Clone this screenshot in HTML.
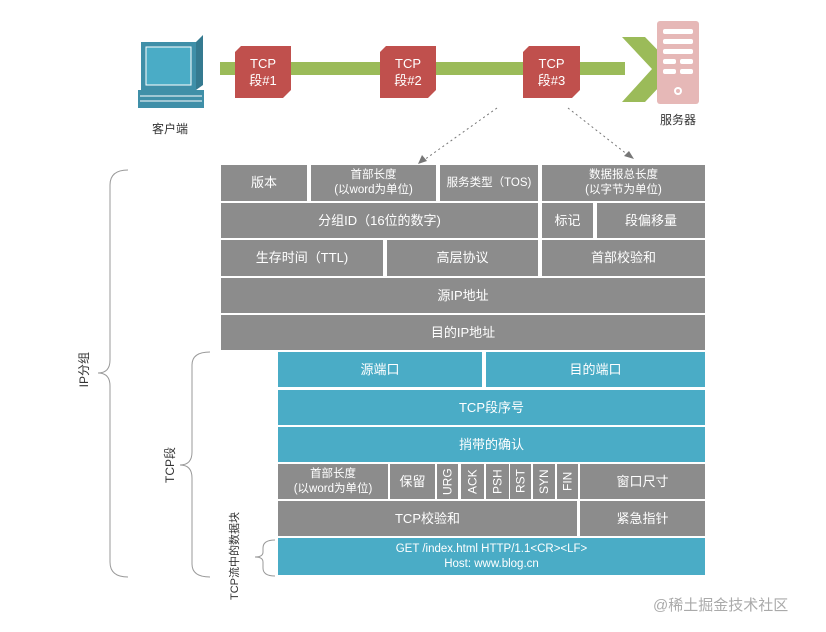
<!DOCTYPE html>
<html><head><meta charset="utf-8"><style>
body{margin:0;width:826px;height:632px;background:#fff;position:relative;overflow:hidden;font-family:"Liberation Sans","Noto Sans CJK SC",sans-serif}
.c{position:absolute;display:flex;align-items:center;justify-content:center;text-align:center;color:#fff;font-size:13px;line-height:16px}
.g{background:#8c8c8c}.b{background:#4aacc6}
.s{font-size:11.5px;line-height:15px}
.v{writing-mode:vertical-rl;text-orientation:sideways;transform:rotate(180deg);font-size:12px}
.r{position:absolute;background:#c0504d;color:#fff;font-size:13px;text-align:center;line-height:17px;padding-top:9px;box-sizing:border-box;clip-path:polygon(6px 0,100% 0,100% calc(100% - 8px),calc(100% - 8px) 100%,0 100%,0 6px)}
.t{position:absolute;font-size:12px;color:#333}
</style></head><body>
<svg width="826" height="632" style="position:absolute;left:0;top:0">
<rect x="220" y="62" width="405" height="13" fill="#9bbb59"/>
<polygon points="622,37 645,37 676,69 645,102 622,102 652,69" fill="#9bbb59"/>
<rect x="141" y="42" width="55" height="48" fill="#3f8fa8"/>
<rect x="146" y="47" width="45" height="38" fill="#4aacc6" stroke="#fff" stroke-width="1"/>
<polygon points="196,42 203,35 203,85 196,90" fill="#357a90"/>
<rect x="138" y="90" width="66" height="18" fill="#3f8fa8"/>
<line x1="140" y1="96" x2="202" y2="96" stroke="#fff"/><line x1="140" y1="101" x2="202" y2="101" stroke="#fff"/>
<rect x="657" y="21" width="42" height="83" rx="3" fill="#e6b8b7"/>
<rect x="663" y="29" width="30" height="5" rx="2" fill="#fff"/><rect x="663" y="39" width="30" height="5" rx="2" fill="#fff"/><rect x="663" y="49" width="30" height="5" rx="2" fill="#fff"/>
<rect x="663" y="59" width="13" height="5" rx="2" fill="#fff"/><rect x="680" y="59" width="13" height="5" rx="2" fill="#fff"/>
<rect x="663" y="69" width="13" height="5" rx="2" fill="#fff"/><rect x="680" y="69" width="13" height="5" rx="2" fill="#fff"/>
<circle cx="678" cy="91" r="4" fill="#fff"/><circle cx="678" cy="91" r="2" fill="#e6b8b7"/>
<line x1="497" y1="108" x2="424" y2="160" stroke="#777" stroke-dasharray="2,3"/>
<polygon points="418,164 422,155 427,161" fill="#777"/>
<line x1="568" y1="108" x2="628" y2="155" stroke="#777" stroke-dasharray="2,3"/>
<polygon points="634,159 624,156 629,151" fill="#777"/>
<path d="M128,170 Q110,170 110,185 L110,360 Q110,373 98,373 Q110,373 110,386 L110,562 Q110,577 128,577" fill="none" stroke="#999"/>
<path d="M210,352 Q192,352 192,365 L192,452 Q192,465 180,465 Q192,465 192,478 L192,564 Q192,577 210,577" fill="none" stroke="#999"/>
<path d="M275,540 Q263,540 263,548 L263,552 Q263,557 255,557 Q263,557 263,562 L263,568 Q263,576 275,576" fill="none" stroke="#999"/>
</svg>
<div class="r" style="left:235px;top:46px;width:56px;height:52px">TCP<br>段#1</div>
<div class="r" style="left:380px;top:46px;width:56px;height:52px">TCP<br>段#2</div>
<div class="r" style="left:523px;top:46px;width:57px;height:52px">TCP<br>段#3</div>
<div class="t" style="left:152px;top:120px">客户端</div>
<div class="t" style="left:660px;top:111px">服务器</div>
<div class="t v" style="left:75px;top:352px">IP分组</div>
<div class="t v" style="left:161px;top:447px">TCP段</div>
<div class="t v" style="left:226px;top:512px;font-size:11px">TCP流中的数据块</div>

<div class="c g" style="left:221px;top:165px;width:86px;height:36px">版本</div>
<div class="c g s" style="left:311px;top:165px;width:125px;height:36px">首部长度<br>(以word为单位)</div>
<div class="c g s" style="left:440px;top:165px;width:98px;height:36px">服务类型（TOS)</div>
<div class="c g s" style="left:542px;top:165px;width:163px;height:36px">数据报总长度<br>(以字节为单位)</div>
<div class="c g" style="left:221px;top:203px;width:317px;height:35px">分组ID（16位的数字)</div>
<div class="c g" style="left:542px;top:203px;width:51px;height:35px">标记</div>
<div class="c g" style="left:597px;top:203px;width:108px;height:35px">段偏移量</div>
<div class="c g" style="left:221px;top:240px;width:162px;height:36px">生存时间（TTL)</div>
<div class="c g" style="left:387px;top:240px;width:151px;height:36px">高层协议</div>
<div class="c g" style="left:542px;top:240px;width:163px;height:36px">首部校验和</div>
<div class="c g" style="left:221px;top:278px;width:484px;height:35px">源IP地址</div>
<div class="c g" style="left:221px;top:315px;width:484px;height:35px">目的IP地址</div>

<div class="c b" style="left:278px;top:352px;width:204px;height:35px">源端口</div>
<div class="c b" style="left:486px;top:352px;width:219px;height:35px">目的端口</div>
<div class="c b" style="left:278px;top:390px;width:427px;height:35px">TCP段序号</div>
<div class="c b" style="left:278px;top:427px;width:427px;height:35px">捎带的确认</div>
<div class="c g s" style="left:278px;top:464px;width:110px;height:35px">首部长度<br>(以word为单位)</div>
<div class="c g" style="left:390px;top:464px;width:45px;height:35px">保留</div>
<div class="c g v" style="left:437px;top:464px;width:21px;height:35px">URG</div>
<div class="c g v" style="left:461px;top:464px;width:23px;height:35px">ACK</div>
<div class="c g v" style="left:486px;top:464px;width:23px;height:35px">PSH</div>
<div class="c g v" style="left:510px;top:464px;width:21px;height:35px">RST</div>
<div class="c g v" style="left:533px;top:464px;width:22px;height:35px">SYN</div>
<div class="c g v" style="left:557px;top:464px;width:21px;height:35px">FIN</div>
<div class="c g" style="left:580px;top:464px;width:125px;height:35px">窗口尺寸</div>
<div class="c g" style="left:278px;top:501px;width:299px;height:35px">TCP校验和</div>
<div class="c g" style="left:580px;top:501px;width:125px;height:35px">紧急指针</div>
<div class="c b s" style="left:278px;top:538px;width:427px;height:37px">GET /index.html HTTP/1.1&lt;CR&gt;&lt;LF&gt;<br>Host: www.blog.cn</div>
<div class="t" style="left:653px;top:594px;font-size:15px;color:#aaa">@稀土掘金技术社区</div>
</body></html>
